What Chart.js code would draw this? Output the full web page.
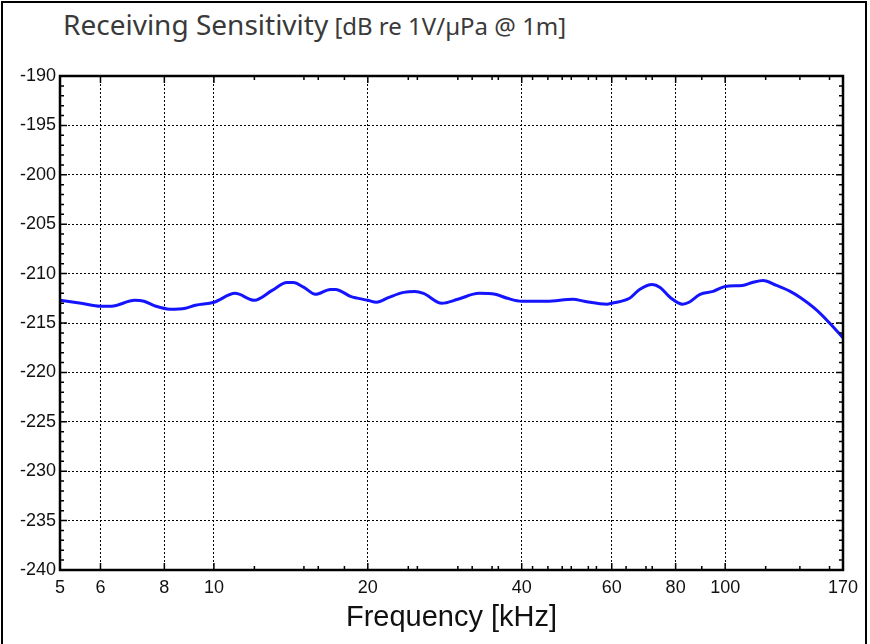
<!DOCTYPE html>
<html>
<head>
<meta charset="utf-8">
<title>Receiving Sensitivity</title>
<script src="https://cdn.jsdelivr.net/npm/chart.js@4.4.0/dist/chart.umd.min.js"></script>
<style>
  html, body { margin: 0; padding: 0; background: #fff; }
  #frame { position: absolute; left: 1px; top: 1px; width: 866px; height: 680px; border: 2px solid #000; box-sizing: border-box; }
  #title { position: absolute; left: 63px; top: 5px; font-family: "Noto Sans", sans-serif; color: #3a3a3a; white-space: nowrap; }
  #title .main { font-size: 28px; }
  #title .unit { font-size: 24px; margin-left: 2px; }
  #wrap { position: absolute; left: 0; top: 0; width: 870px; height: 644px; }
</style>
</head>
<body>
<div id="frame"></div>
<div id="title"><span class="main">Receiving Sensitivity</span> <span class="unit">[dB re 1V/µPa @ 1m]</span></div>
<div id="wrap"><canvas id="sensChart"></canvas></div>
<script>
// valores (kHz / dB)
const freqKHz = [5, 5.5, 6, 6.3, 7, 7.3, 7.7, 8.2, 8.8, 9.2, 10, 11, 12, 13, 13.9, 14.3, 15, 15.8, 16.9, 17.3, 18.5, 20, 20.8, 22, 23.5, 24.7, 25.7, 27.9, 30, 33, 35.5, 37.5, 40, 44.8, 50.4, 53, 58.7, 60, 65, 68, 72, 74.6, 78, 82.6, 85, 89.3, 94.7, 100, 108, 113, 118.6, 126, 134, 140, 151, 160, 170];
const sensitivityDb = [-212.7, -213.0, -213.3, -213.3, -212.7, -212.8, -213.3, -213.6, -213.5, -213.2, -212.9, -212.0, -212.7, -211.7, -210.9, -210.9, -211.4, -212.1, -211.6, -211.6, -212.3, -212.7, -212.9, -212.4, -211.9, -211.8, -212.0, -213.0, -212.6, -212.0, -212.1, -212.5, -212.8, -212.8, -212.6, -212.8, -213.1, -213.0, -212.5, -211.6, -211.1, -211.4, -212.4, -213.1, -212.9, -212.1, -211.8, -211.3, -211.2, -210.9, -210.7, -211.2, -211.8, -212.4, -213.7, -215.0, -216.5];

const freqLabels = [5, 6, 8, 10, 20, 40, 60, 80, 100, 170];
const freqMinor = [12, 15, 16, 18, 24, 25, 30, 32, 35, 36, 42, 45, 48, 50, 54, 56, 64, 70, 72, 90, 120, 140, 160];
const dbTicks = [-240, -235, -230, -225, -220, -215, -210, -205, -200, -195, -190];

const tickFont = { family: 'Liberation Sans', size: 18 };

// moldura do gráfico + marcas internas
const frameTicks = {
    id: 'frameTicks',
    afterDatasetsDraw(chart) {
        const { ctx, chartArea: a, scales: { x, y } } = chart;
        ctx.save();
        ctx.strokeStyle = '#000';
        ctx.lineWidth = 1.5;
        ctx.beginPath();
        for (let v = -240; v <= -190; v++) {
            const py = y.getPixelForValue(v);
            const len = (v % 5 === 0) ? 7 : 4;
            ctx.moveTo(a.left, py); ctx.lineTo(a.left + len, py);
            ctx.moveTo(a.right, py); ctx.lineTo(a.right - len, py);
        }
        freqLabels.concat(freqMinor).forEach(f => {
            const px = x.getPixelForValue(f);
            const len = freqLabels.includes(f) ? 7 : 4;
            ctx.moveTo(px, a.bottom); ctx.lineTo(px, a.bottom - len);
            ctx.moveTo(px, a.top); ctx.lineTo(px, a.top + len);
        });
        ctx.stroke();
        ctx.lineWidth = 2.5;
        ctx.strokeRect(a.left, a.top, a.right - a.left, a.bottom - a.top);
        ctx.restore();
    }
};

document.addEventListener('DOMContentLoaded', function() {
    const ctx = document.getElementById('sensChart');
    new Chart(ctx.getContext('2d'), {
        type: 'line',
        data: {
            datasets: [{
                data: freqKHz.map((f, i) => ({ x: f, y: sensitivityDb[i] })),
                borderColor: '#1414ff',
                borderWidth: 3,
                pointRadius: 0,
                cubicInterpolationMode: 'monotone',
                fill: false
            }]
        },
        options: {
            responsive: true,
            maintainAspectRatio: false,
            animation: false,
            layout: { padding: { top: 76, right: 27, left: 0, bottom: 0 } },
            plugins: { legend: { display: false }, tooltip: { enabled: false } },
            scales: {
                x: {
                    type: 'logarithmic',
                    min: 5,
                    max: 170,
                    afterBuildTicks: s => {
                        s.ticks = freqLabels.concat(freqMinor).sort((a, b) => a - b).map(v => ({ value: v }));
                    },
                    afterFit: s => { s.height = 74; },
                    ticks: {
                        autoSkip: false,
                        maxRotation: 0,
                        padding: 7,
                        color: '#111',
                        font: tickFont,
                        callback: v => freqLabels.includes(v) ? String(v) : ''
                    },
                    grid: {
                        drawTicks: false,
                        lineWidth: 1,
                        color: c => (c.tick && freqLabels.includes(c.tick.value) && c.tick.value !== 5 && c.tick.value !== 170) ? '#000' : 'rgba(0,0,0,0)'
                    },
                    border: { display: false, dash: [2, 2] },
                    title: {
                        display: true,
                        text: 'Frequency [kHz]',
                        color: '#111',
                        font: { family: 'Liberation Sans', size: 29 },
                        padding: { top: 0, bottom: 9 }
                    }
                },
                y: {
                    min: -240,
                    max: -190,
                    afterBuildTicks: s => { s.ticks = dbTicks.map(v => ({ value: v })); },
                    afterFit: s => { s.width = 60; },
                    ticks: { padding: 4, color: '#111', font: tickFont },
                    grid: {
                        drawTicks: false,
                        lineWidth: 1,
                        color: c => (c.tick && c.tick.value > -240 && c.tick.value < -190) ? '#000' : 'rgba(0,0,0,0)'
                    },
                    border: { display: false, dash: [2, 2] }
                }
            }
        },
        plugins: [frameTicks]
    });
});
</script>
</body>
</html>
